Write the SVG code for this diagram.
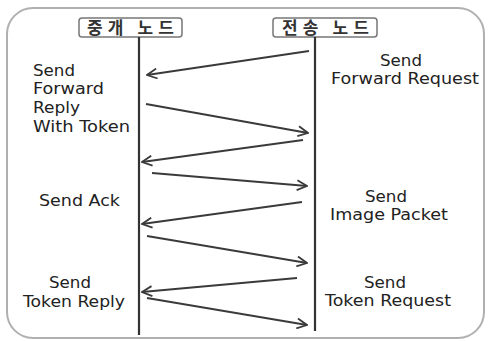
<svg xmlns="http://www.w3.org/2000/svg" width="488" height="341" viewBox="0 0 488 341">
<defs>
<marker id="ah" viewBox="0 0 12 12" refX="11" refY="6" markerWidth="12" markerHeight="12" markerUnits="userSpaceOnUse" orient="auto">
<path d="M1,1 L11,6 L1,11" fill="none" stroke="#3a3a3a" stroke-width="1.8"/>
</marker>
</defs>
<style>
.frame{fill:#fff;stroke:#b0b0b0;stroke-width:2}
.box{fill:#fff;stroke:#777;stroke-width:1.5}
.life{stroke:#333;stroke-width:2.2}
.msg{stroke:#3a3a3a;stroke-width:1.8;fill:none;marker-end:url(#ah)}
.kt{font-family:"Noto Sans CJK KR",sans-serif;font-size:17px;font-weight:bold;fill:#333}
.lbl{font-family:"DejaVu Sans","Noto Sans",sans-serif;font-size:15px;fill:#222}
.c{text-anchor:middle}
</style>
<rect class="frame" x="7" y="8" width="477" height="330" rx="26"/>
<g id="relay-node">
<rect class="box" x="79" y="18" width="103" height="19" rx="3"/>
<text class="kt" x="87" y="33.5" textLength="87" lengthAdjust="spacing">중개 노드</text>
<line class="life" x1="139" y1="37" x2="139" y2="335"/>
</g>
<g id="send-node">
<rect class="box" x="273" y="18" width="104" height="19" rx="3"/>
<text class="kt" x="282" y="33.5" textLength="87" lengthAdjust="spacing">전송 노드</text>
<line class="life" x1="315" y1="37" x2="315" y2="331"/>
</g>
<g id="connectors">
<line class="msg" x1="309" y1="51" x2="147" y2="75"/>
<line class="msg" x1="146" y1="104" x2="308" y2="133"/>
<line class="msg" x1="303" y1="140" x2="142" y2="162"/>
<line class="msg" x1="152" y1="173" x2="307" y2="186"/>
<line class="msg" x1="302" y1="202" x2="142" y2="224"/>
<line class="msg" x1="147" y1="236" x2="307" y2="263"/>
<line class="msg" x1="297" y1="278" x2="142" y2="292"/>
<line class="msg" x1="147" y1="298" x2="307" y2="325"/>
</g>
<g id="labels">
<text class="lbl"><tspan x="33" y="76" textLength="42" lengthAdjust="spacingAndGlyphs">Send</tspan><tspan x="33" y="94" textLength="71" lengthAdjust="spacingAndGlyphs">Forward</tspan><tspan x="33" y="113" textLength="47" lengthAdjust="spacingAndGlyphs">Reply</tspan><tspan x="33" y="132" textLength="97" lengthAdjust="spacingAndGlyphs">With Token</tspan></text>
<text class="lbl" x="39" y="206" textLength="81" lengthAdjust="spacingAndGlyphs">Send Ack</text>
<text class="lbl c"><tspan x="70" y="287.5" textLength="42" lengthAdjust="spacingAndGlyphs">Send</tspan><tspan x="74" y="307" textLength="102" lengthAdjust="spacingAndGlyphs">Token Reply</tspan></text>
<text class="lbl c"><tspan x="401" y="65.5" textLength="42" lengthAdjust="spacingAndGlyphs">Send</tspan><tspan x="405" y="83.5" textLength="148" lengthAdjust="spacingAndGlyphs">Forward Request</tspan></text>
<text class="lbl c"><tspan x="386" y="201.5" textLength="42" lengthAdjust="spacingAndGlyphs">Send</tspan><tspan x="389" y="219.5" textLength="118" lengthAdjust="spacingAndGlyphs">Image Packet</tspan></text>
<text class="lbl c"><tspan x="385" y="287.5" textLength="42" lengthAdjust="spacingAndGlyphs">Send</tspan><tspan x="388" y="305.5" textLength="126" lengthAdjust="spacingAndGlyphs">Token Request</tspan></text>
</g>
</svg>
